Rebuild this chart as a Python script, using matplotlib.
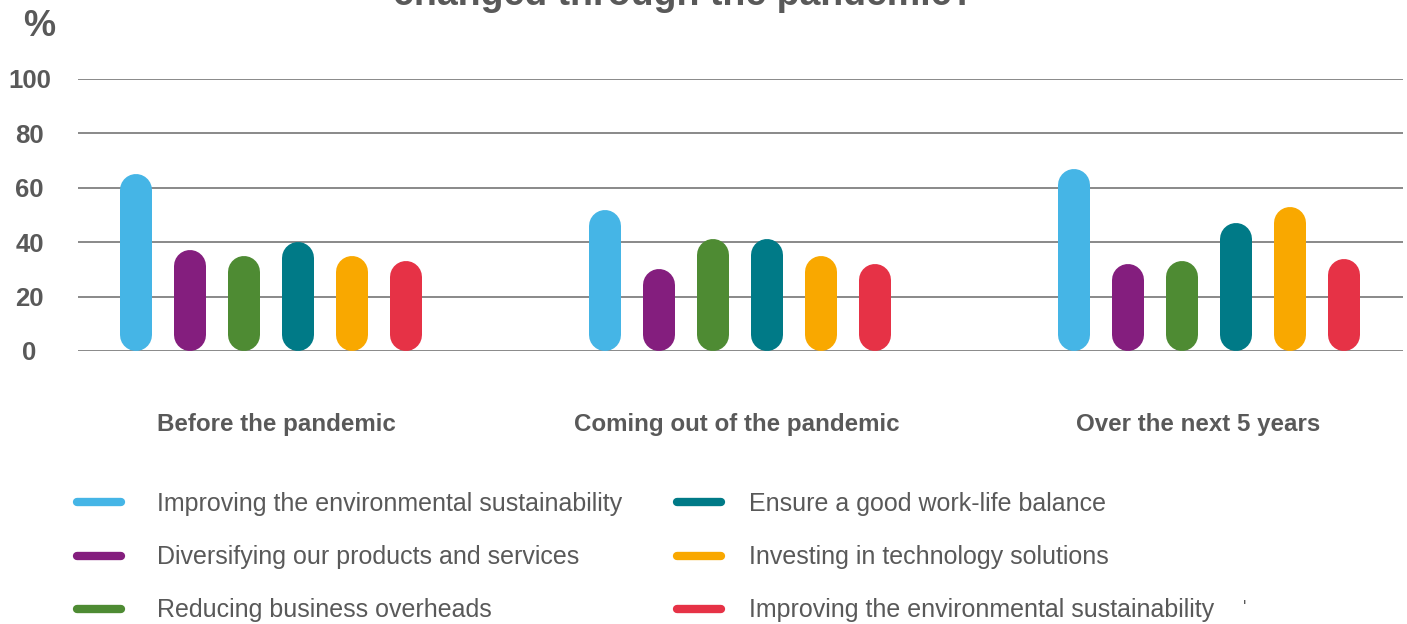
import numpy as np
import matplotlib.pyplot as plt
from matplotlib.lines import Line2D

# dati
categories = ["Before the pandemic", "Coming out of the pandemic", "Over the next 5 years"]
series_labels = [
    "Improving the environmental sustainability",
    "Diversifying our products and services",
    "Reducing business overheads",
    "Ensure a good work-life balance",
    "Investing in technology solutions",
    "Improving the environmental sustainability",
]
env_sustainability = [65, 52, 67]
diversifying = [37, 30, 32]
overheads = [35, 41, 33]
work_life = [40, 41, 47]
technology = [35, 35, 53]
env_sustainability_2 = [33, 32, 34]
yticks = [0, 20, 40, 60, 80, 100]

series = [env_sustainability, diversifying, overheads, work_life, technology, env_sustainability_2]
colors = ["#45B5E6", "#841E7E", "#4E8B33", "#007A87", "#F9A800", "#E63246"]

grey = "#595959"
plt.rcParams['font.family'] = ['Liberation Sans', 'DejaVu Sans']

fig = plt.figure(figsize=(14.07, 6.24), dpi=100)
ax = fig.add_axes([78/1407, (624-351)/624, 1325/1407, 272/624])
ax.set_xlim(-0.4105, 2.414)
ax.set_ylim(0, 100)

for s in ax.spines.values():
    s.set_visible(False)
ax.set_yticks(yticks)
ax.yaxis.grid(True, color="#808080", linewidth=1.3)
ax.set_axisbelow(True)
ax.tick_params(axis='y', length=0, pad=35, labelsize=18.5, labelcolor=grey)
for t in ax.get_yticklabels():
    t.set_fontweight('bold')
    t.set_horizontalalignment('center')

x = np.arange(len(categories))
# le etichette nell'originale non sono perfettamente centrate sui gruppi
ax.set_xticks(x + np.array([0.012, -0.006, -0.023]))
ax.set_xticklabels(categories, fontsize=17.4, fontweight='bold', color=grey)
ax.tick_params(axis='x', length=0, pad=45)

# barre arrotondate: linee spesse con estremi tondi
bar_px = 32
lw = bar_px * 72 / fig.dpi
r = (bar_px / 2) / (ax.get_position().height * fig.get_figheight() * fig.dpi) * 100
step = 0.1151
for j, (vals, c) in enumerate(zip(series, colors)):
    xo = x + (j - 2.5) * step
    for xi, v in zip(xo, vals):
        ax.plot([xi, xi], [r, v - r], color=c, linewidth=lw,
                solid_capstyle='round', clip_on=False)

# legenda su due colonne (due legende separate per gestire gli spazi)
handles = [Line2D([0], [0], color=c, linewidth=6, solid_capstyle='round') for c in colors]
leg_kw = dict(loc='upper left', frameon=False, fontsize=18, labelcolor=grey,
              borderpad=0, borderaxespad=0, handlelength=1.76, labelspacing=1.17)
fig.legend(handles[:3], series_labels[:3], bbox_to_anchor=(77/1407, 1 - 492/624),
           handletextpad=1.44, **leg_kw)
fig.legend(handles[3:], series_labels[3:], bbox_to_anchor=(677/1407, 1 - 492/624),
           handletextpad=1.12, **leg_kw)

fig.text(39/1407, 1 - 27/624, "%", fontsize=26, fontweight='bold', color=grey,
         ha='center', va='center')
fig.text(684/1407, 1 - 5/624, "changed through the pandemic?", fontsize=27,
         fontweight='bold', color=grey, ha='center', va='baseline')
fig.text(1245/1407, 1 - 608/624, "'", fontsize=13, color=grey, ha='center', va='center')

plt.savefig("out.png", dpi=100)
